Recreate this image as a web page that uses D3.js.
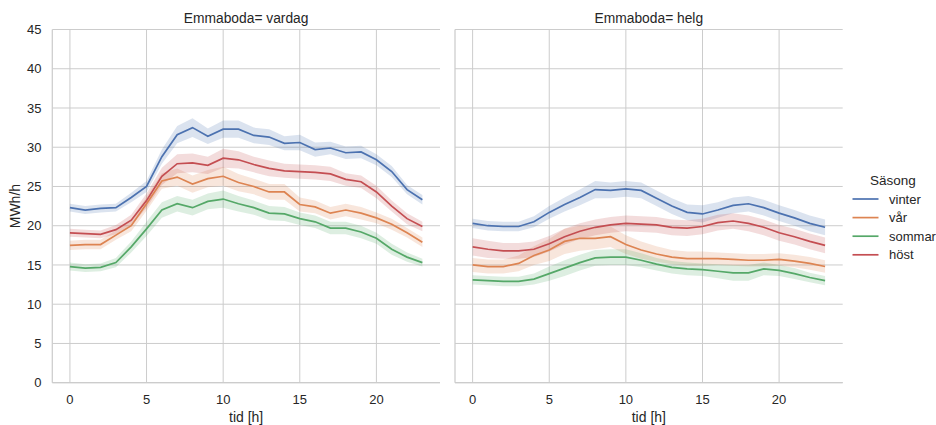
<!DOCTYPE html>
<html><head><meta charset="utf-8">
<script src="https://cdn.jsdelivr.net/npm/d3@7"></script>
<style>body{margin:0;background:#fff}svg{font-family:"Liberation Sans",Arial,sans-serif}</style>
</head><body><svg id="c" width="936" height="425"></svg>
<script>
const hours = d3.range(0, 24);
const seasons = ["vinter", "vår", "sommar", "höst"];
const colors = ["#4c72b0", "#dd8452", "#55a868", "#c44e52"];
const panels = ["vardag", "helg"];
const yTicks = [0, 5, 10, 15, 20, 25, 30, 35, 40, 45];
const xTicks = [0, 5, 10, 15, 20];

// vardag
const vardagVinter = [22.3,22.0,22.2,22.3,23.6,25.0,28.8,31.6,32.5,31.4,32.3,32.3,31.5,31.3,30.5,30.6,29.7,29.9,29.3,29.4,28.4,26.9,24.6,23.3];
const vardagVar    = [17.5,17.6,17.6,18.8,20.0,22.8,25.7,26.2,25.3,26.0,26.3,25.5,25.0,24.3,24.3,22.7,22.4,21.6,22.0,21.6,21.0,20.2,19.1,17.9];
const vardagSommar = [14.8,14.6,14.7,15.3,17.3,19.6,22.0,22.8,22.3,23.1,23.4,22.8,22.3,21.6,21.5,20.9,20.5,19.7,19.7,19.2,18.4,17.0,16.0,15.3];
const vardagHost   = [19.1,19.0,18.9,19.5,20.7,23.2,26.3,27.9,28.0,27.7,28.6,28.4,27.8,27.3,27.0,26.9,26.8,26.6,25.9,25.6,24.3,22.5,20.9,19.9];
const vardagVinterCi = [0.5,0.5,0.5,0.5,0.6,0.7,0.9,1.1,1.2,1.0,1.1,1.1,1.0,1.0,0.9,1.0,0.9,0.8,0.8,0.8,0.7,0.7,0.6,0.6];
const vardagVarCi    = [0.6,0.6,0.6,0.6,0.7,0.9,1.0,1.1,1.1,1.1,1.2,1.1,1.0,1.0,1.0,0.9,0.8,0.8,0.8,0.8,0.7,0.7,0.6,0.6];
const vardagSommarCi = [0.5,0.5,0.5,0.6,0.7,0.9,1.0,1.0,1.0,1.0,1.1,1.0,0.9,0.9,0.9,0.8,0.8,0.8,0.8,0.8,0.7,0.7,0.6,0.5];
const vardagHostCi   = [0.5,0.5,0.5,0.6,0.7,0.9,1.1,1.2,1.2,1.1,1.2,1.1,1.0,1.0,0.9,0.9,0.9,0.9,0.8,0.8,0.8,0.7,0.7,0.6];
// helg
const helgVinter = [20.3,20.0,19.9,19.9,20.5,21.7,22.7,23.6,24.6,24.5,24.7,24.5,23.5,22.5,21.7,21.5,22.0,22.6,22.8,22.3,21.6,21.0,20.3,19.8];
const helgVar    = [15.0,14.8,14.8,15.2,16.2,16.9,18.0,18.4,18.4,18.6,17.6,16.9,16.4,16.0,15.8,15.8,15.8,15.7,15.6,15.6,15.7,15.5,15.2,14.8];
const helgSommar = [13.1,13.0,12.9,12.9,13.2,13.9,14.6,15.3,15.9,16.0,16.0,15.6,15.1,14.7,14.5,14.4,14.2,14.0,14.0,14.5,14.3,13.9,13.4,13.0];
const helgHost   = [17.3,17.0,16.8,16.8,17.0,17.7,18.6,19.3,19.8,20.1,20.3,20.2,20.1,19.8,19.7,19.9,20.4,20.6,20.3,19.8,19.1,18.6,18.0,17.5];
const helgVinterCi = [0.6,0.6,0.6,0.6,0.7,0.8,0.9,1.0,1.1,1.0,1.0,1.0,1.0,1.0,1.0,1.1,1.0,1.0,1.0,1.0,1.0,1.0,1.0,1.0];
const helgVarCi    = [0.9,0.9,0.9,1.0,1.2,1.4,1.6,1.6,1.4,1.3,1.2,1.1,1.0,0.9,0.9,0.9,0.8,0.8,0.8,0.8,0.8,0.8,0.8,0.8];
const helgSommarCi = [0.6,0.6,0.6,0.6,0.7,0.9,1.0,1.0,1.0,1.0,1.0,0.9,0.8,0.8,0.8,0.8,0.9,1.0,1.0,0.8,0.7,0.7,0.6,0.6];
const helgHostCi   = [1.1,1.1,1.0,1.0,1.0,1.0,1.0,1.0,1.0,1.0,1.0,1.0,1.0,1.0,1.0,1.0,1.0,1.0,1.0,1.0,1.0,1.0,1.0,1.0];

const dataByPanel = {
  vardag: [[vardagVinter,vardagVinterCi],[vardagVar,vardagVarCi],[vardagSommar,vardagSommarCi],[vardagHost,vardagHostCi]],
  helg:   [[helgVinter,helgVinterCi],[helgVar,helgVarCi],[helgSommar,helgSommarCi],[helgHost,helgHostCi]]
};

const svg = d3.select("#c");
const grid = "#cccccc", txt = "#262626";
const plotTop = 29.5, plotBottom = 382.7;
const panelX = [[52.3, 440], [455, 842.7]];
const y = d3.scaleLinear().domain([0, 45]).range([plotBottom, plotTop]);

panels.forEach((p, pi) => {
  const [x0, x1] = panelX[pi];
  const x = d3.scaleLinear().domain([-1.15, 24.15]).range([x0, x1]);
  const g = svg.append("g");
  g.selectAll(".hg").data(yTicks).enter().append("line")
    .attr("x1", x0).attr("x2", x1).attr("y1", d => y(d)).attr("y2", d => y(d))
    .attr("stroke", grid).attr("stroke-width", 1);
  g.selectAll(".vg").data(xTicks).enter().append("line")
    .attr("x1", d => x(d)).attr("x2", d => x(d)).attr("y1", plotTop).attr("y2", plotBottom)
    .attr("stroke", grid).attr("stroke-width", 1);
  g.append("line").attr("x1", x0).attr("x2", x0).attr("y1", plotTop).attr("y2", plotBottom).attr("stroke", grid).attr("stroke-width", 1.25);
  g.append("line").attr("x1", x0).attr("x2", x1).attr("y1", plotBottom).attr("y2", plotBottom).attr("stroke", grid).attr("stroke-width", 1.25);

  const area = d3.area().x((d, i) => x(hours[i])).y0(d => y(d[0] - d[1])).y1(d => y(d[0] + d[1]));
  const line = d3.line().x((d, i) => x(hours[i])).y(d => y(d));
  dataByPanel[p].forEach(([vals, ci], si) => {
    g.append("path").datum(vals.map((v, i) => [v, ci[i]])).attr("d", area)
      .attr("fill", colors[si]).attr("fill-opacity", 0.2).attr("stroke", "none");
  });
  dataByPanel[p].forEach(([vals], si) => {
    g.append("path").datum(vals).attr("d", line)
      .attr("fill", "none").attr("stroke", colors[si]).attr("stroke-width", 1.7);
  });
  g.selectAll(".xt").data(xTicks).enter().append("text")
    .attr("x", d => x(d)).attr("y", 403.5).attr("text-anchor", "middle")
    .attr("font-size", 13).attr("fill", txt).text(d => d);
  g.append("text").attr("x", (x0 + x1) / 2).attr("y", 421.5).attr("text-anchor", "middle")
    .attr("font-size", 14).attr("fill", txt).text("tid [h]");
  g.append("text").attr("x", (x0 + x1) / 2).attr("y", 22.5).attr("text-anchor", "middle")
    .attr("font-size", 13.8).attr("fill", txt).text("Emmaboda= " + p);
  if (pi === 0) {
    g.selectAll(".yt").data(yTicks).enter().append("text")
      .attr("x", 41.5).attr("y", d => y(d) + 4.6).attr("text-anchor", "end")
      .attr("font-size", 13).attr("fill", txt).text(d => d);
    g.append("text").attr("transform", `translate(20,${(plotTop + plotBottom) / 2}) rotate(-90)`)
      .attr("text-anchor", "middle").attr("font-size", 14).attr("fill", txt).text("MWh/h");
  }
});

const lg = svg.append("g");
lg.append("text").attr("x", 893).attr("y", 185).attr("text-anchor", "middle")
  .attr("font-size", 13.5).attr("fill", txt).text("Säsong");
seasons.forEach((s, i) => {
  const yy = 199 + i * 18.6;
  lg.append("line").attr("x1", 852.5).attr("x2", 878.5).attr("y1", yy).attr("y2", yy)
    .attr("stroke", colors[i]).attr("stroke-width", 1.7);
  lg.append("text").attr("x", 889).attr("y", yy + 4.6).attr("font-size", 13).attr("fill", txt).text(s);
});
</script></body></html>
